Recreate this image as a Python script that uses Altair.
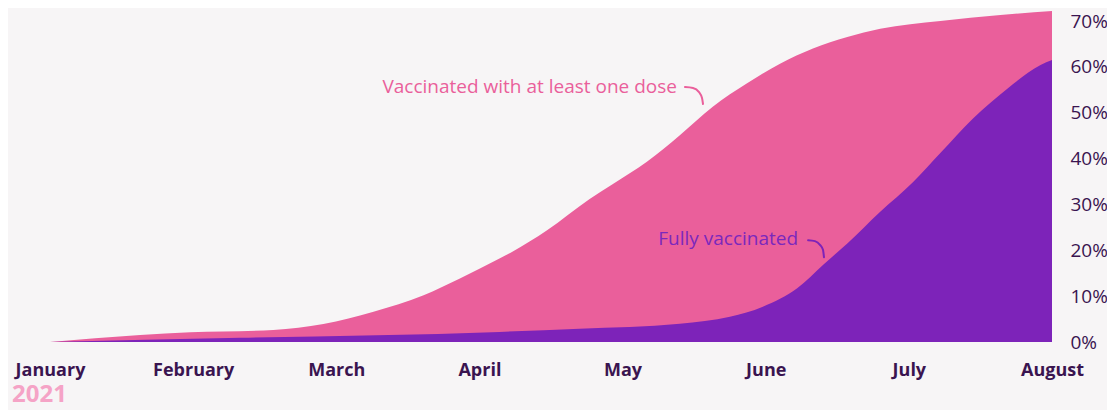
import altair as alt
import pandas as pd

# ---- data (x = months since 1 January 2021, y = share of population) ----
month_names = ["January", "February", "March", "April", "May", "June", "July", "August"]

one_dose_month = [0, 0.63, 0.98, 1.56, 1.91, 2.26, 2.61, 2.86, 3.14, 3.23, 3.47, 3.77, 3.93,
                  4.17, 4.40, 4.63, 4.87, 5.10, 5.33, 5.57, 5.80, 6.22, 6.64, 7.0]
one_dose_pct = [0, 1.5, 2.1, 2.6, 3.9, 6.6, 10.2, 13.8, 18.2, 19.7, 24.3, 31.2, 34.4,
                39.3, 45.1, 51.3, 56.4, 60.7, 64.0, 66.5, 68.3, 70.0, 71.3, 72.2]

fully_month = [0, 1.33, 3.14, 3.70, 4.40, 4.75, 4.98, 5.22, 5.40, 5.57, 5.80, 6.03, 6.22,
               6.45, 6.69, 6.92, 7.0]
fully_pct = [0, 0.9, 2.2, 2.9, 4.0, 5.5, 7.7, 11.7, 16.8, 21.5, 28.4, 34.9, 41.2,
             48.8, 55.3, 60.4, 61.5]

y_ticks = [0, 0.1, 0.2, 0.3, 0.4, 0.5, 0.6, 0.7]

# annotation labels and their small curved pointers (data coordinates)
label_one = "Vaccinated with at least one dose"
label_full = "Fully vaccinated"
arrow_one_x = [4.436, 4.492, 4.534, 4.555, 4.562]
arrow_one_y = [55.6, 55.4, 54.5, 53.2, 51.9]
arrow_full_x = [5.296, 5.344, 5.379, 5.400, 5.407]
arrow_full_y = [22.2, 22.0, 21.2, 20.1, 18.5]

PINK = "#ea5f9b"
PURPLE = "#7d23b9"
DARK = "#3a1450"
BG = "#f7f5f6"
FONT = "Open Sans"

one_df = pd.DataFrame({"m": one_dose_month, "v": [p / 100 for p in one_dose_pct]})
full_df = pd.DataFrame({"m": fully_month, "v": [p / 100 for p in fully_pct]})
arrow1 = pd.DataFrame({"m": arrow_one_x, "v": [p / 100 for p in arrow_one_y], "o": range(5)})
arrow2 = pd.DataFrame({"m": arrow_full_x, "v": [p / 100 for p in arrow_full_y], "o": range(5)})
lab1 = pd.DataFrame({"m": [4.38], "v": [0.557], "t": [label_one]})
lab2 = pd.DataFrame({"m": [5.226], "v": [0.225], "t": [label_full]})

label_expr = "[" + ",".join(f"'{n}'" for n in month_names) + "][datum.value]"

x_enc = alt.X(
    "m:Q",
    scale=alt.Scale(domain=[0, 7], nice=False, zero=False),
    axis=alt.Axis(
        values=list(range(8)), labelExpr=label_expr, title=None, grid=False, domain=False,
        ticks=False, labelPadding=19, labelFont=FONT, labelFontSize=18, labelFontWeight="bold",
        labelColor=DARK, labelOverlap=False, labelFlush=False, labelAlign="center",
    ),
)
y_enc = alt.Y(
    "v:Q",
    scale=alt.Scale(domain=[0, 0.7], nice=False),
    axis=alt.Axis(
        orient="right", values=y_ticks, format=".0%", title=None, grid=False, domain=False,
        ticks=False, labelPadding=18, labelFont=FONT, labelFontSize=19, labelColor=DARK,
        labelAlign="left", labelBaseline="middle",
    ),
)

pink_area = alt.Chart(one_df).mark_area(color=PINK, interpolate="monotone", clip=False).encode(x=x_enc, y=y_enc)
purple_area = alt.Chart(full_df).mark_area(color=PURPLE, interpolate="monotone", clip=False).encode(x="m:Q", y="v:Q")

arr1 = alt.Chart(arrow1).mark_line(color=PINK, strokeWidth=2, interpolate="monotone", strokeCap="round").encode(
    x="m:Q", y="v:Q", order="o:Q")
arr2 = alt.Chart(arrow2).mark_line(color=PURPLE, strokeWidth=2, interpolate="monotone", strokeCap="round").encode(
    x="m:Q", y="v:Q", order="o:Q")

txt1 = alt.Chart(lab1).mark_text(color=PINK, font=FONT, fontSize=19, align="right", baseline="middle").encode(
    x="m:Q", y="v:Q", text="t:N")
txt2 = alt.Chart(lab2).mark_text(color="#7a28bd", font=FONT, fontSize=19, align="right", baseline="middle").encode(
    x="m:Q", y="v:Q", text="t:N")

year = alt.Chart(pd.DataFrame({"t": ["2021"]})).mark_text(
    color="#f5a3c6", font=FONT, fontSize=24, fontWeight="bold", align="left", baseline="middle"
).encode(x=alt.value(-38), y=alt.value(374), text="t:N")

chart = alt.layer(pink_area, purple_area, arr1, arr2, txt1, txt2, year).properties(
    width=1002, height=321,
    autosize=alt.AutoSizeParams(type="none"),
    padding={"left": 42, "top": 13, "right": 55, "bottom": 68},
    background=BG,
).configure_view(stroke=None)

chart.save("out.html", embed_options={"renderer": "svg", "actions": False})
